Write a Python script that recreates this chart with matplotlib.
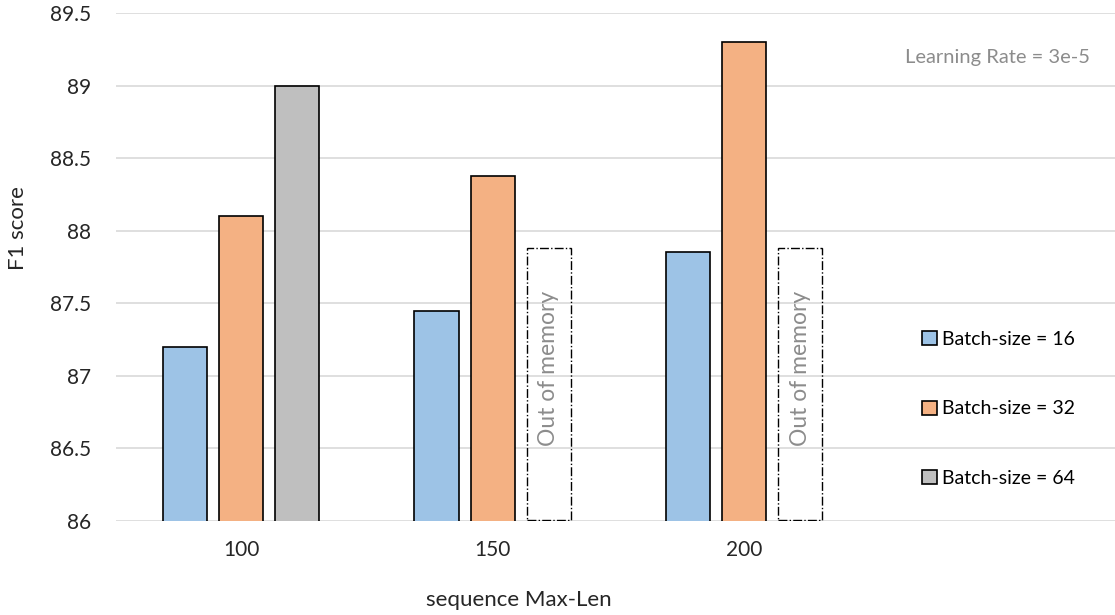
import matplotlib.pyplot as plt
import numpy as np
from matplotlib.patches import Patch

plt.rcParams['font.family'] = ['Lato', 'DejaVu Sans']

max_len = ['100', '150', '200']
batch_labels = ['Batch-size = 16', 'Batch-size = 32', 'Batch-size = 64']
f1_bs16 = [87.2, 87.45, 87.85]
f1_bs32 = [88.1, 88.38, 89.3]
f1_bs64 = [89.0, None, None]   # out of memory for 150 and 200
oom_top = 87.87

colors = ['#9DC3E6', '#F4B183', '#BFBFBF']

fig = plt.figure(figsize=(11.15, 6.15), dpi=100)
ax = fig.add_axes([116/1115, 1-521/615, 1-116/1115, (521-13)/615])

x = np.arange(len(max_len))
w = 0.175
step = 0.2227

ax.bar(x - step, f1_bs16, w, color=colors[0], edgecolor='black', linewidth=1.2, zorder=3)
ax.bar(x, f1_bs32, w, color=colors[1], edgecolor='black', linewidth=1.2, zorder=3)
for i, v in enumerate(f1_bs64):
    if v is not None:
        ax.bar(x[i] + step, v, w, color=colors[2], edgecolor='black', linewidth=1.2, zorder=3)
    else:
        ax.bar(x[i] + step, oom_top - 86, w, bottom=86.01, fill=False, edgecolor='black',
               linewidth=1.0, linestyle='-.', zorder=3)
        ax.text(x[i] + step, 87.05, 'Out of memory', rotation=90, ha='center', va='center',
                color='#8C8C8C', fontsize=16.5, zorder=4)

ax.set_ylim(86, 89.5)
ax.set_xlim(-0.497, 3.475)
ax.set_yticks(np.arange(86, 89.51, 0.5))
ax.set_yticklabels(['86', '86.5', '87', '87.5', '88', '88.5', '89', '89.5'])
ax.set_xticks(x)
ax.set_xticklabels(max_len)
ax.tick_params(length=0, labelsize=15, colors='#262626', pad=14)
ax.tick_params(axis='y', pad=18)
ax.yaxis.grid(color='#D9D9D9', linewidth=1.2, zorder=0)
ax.set_axisbelow(True)
for s in ax.spines.values():
    s.set_visible(False)

fig.text(18/1115, 1-228/615, 'F1 score', rotation=90, ha='center', va='center', fontsize=16, color='#262626')
fig.text(519/1115, 1-600/615, 'sequence Max-Len', ha='center', va='center', fontsize=16, color='#262626')
fig.text(1090/1115, 1-57/615, 'Learning Rate = 3e-5', ha='right', va='center', fontsize=14.5, color='#8C8C8C')

handles = [Patch(facecolor=c, edgecolor='black', linewidth=1.2) for c in colors]
fig.legend(handles, batch_labels, loc='center left', bbox_to_anchor=(922/1115, 1-409/615),
           frameon=False, fontsize=14, labelspacing=2.7, handlelength=0.75, handleheight=0.75,
           handletextpad=0.3, borderpad=0, borderaxespad=0)

plt.savefig('out.png', dpi=100)
